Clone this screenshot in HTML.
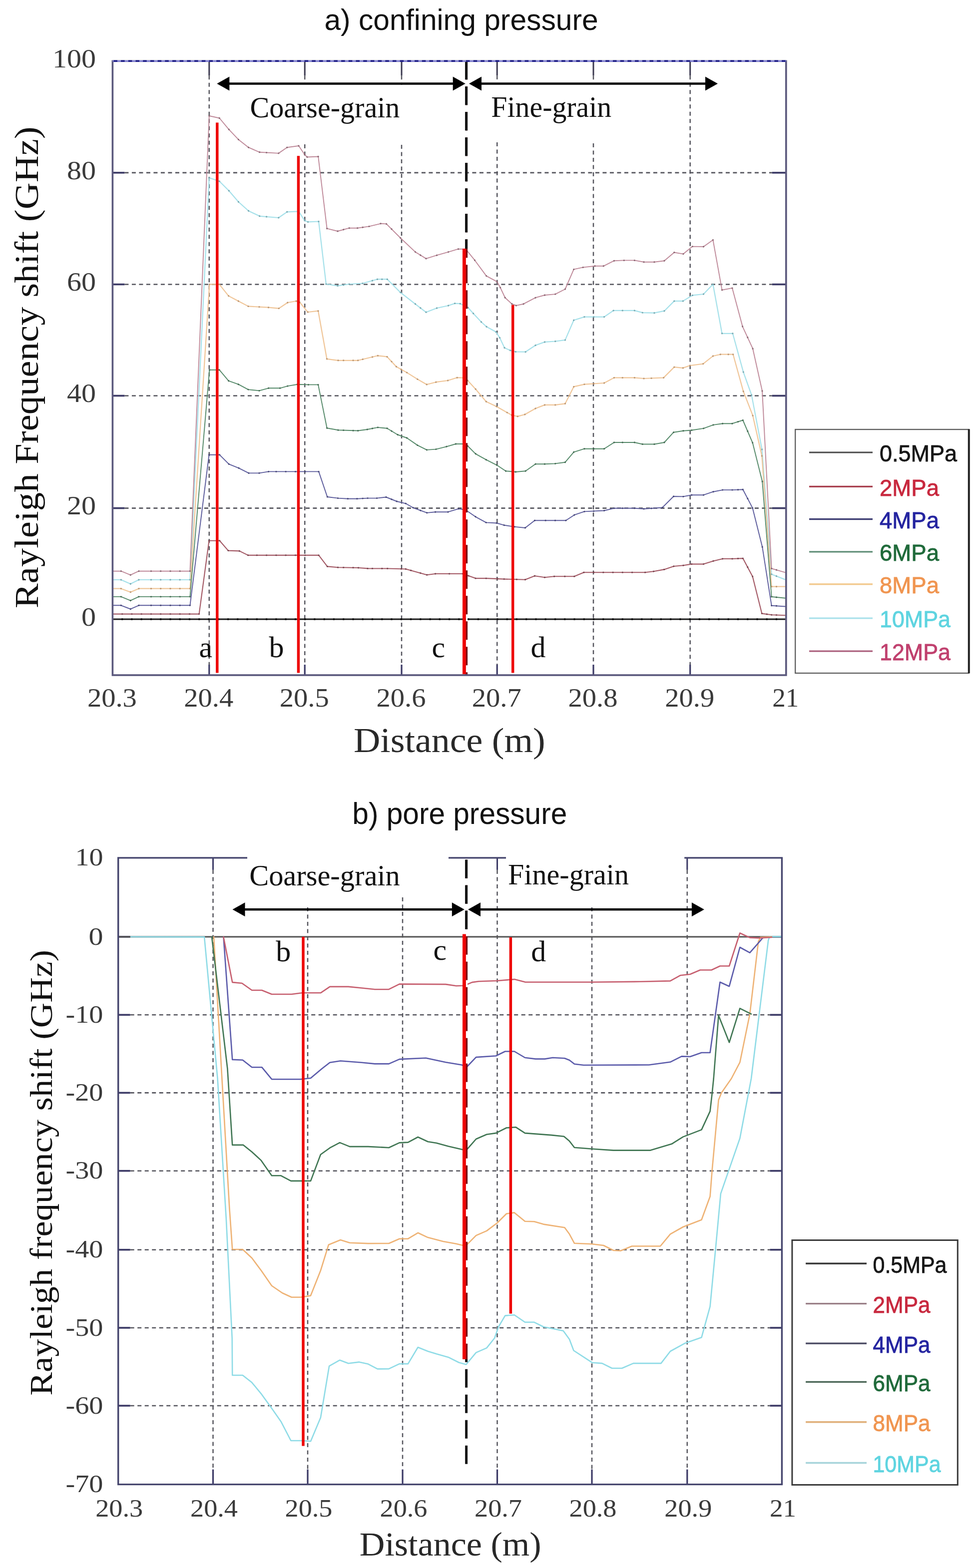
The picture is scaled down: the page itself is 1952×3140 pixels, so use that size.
<!DOCTYPE html>
<html lang="en"><head><meta charset="utf-8"><title>Rayleigh frequency shift: confining and pore pressure</title>
<style>html,body{margin:0;padding:0;background:#fff;width:1952px;height:3140px;overflow:hidden}svg{display:block}</style></head><body>
<svg width="1952" height="3140" viewBox="0 0 1952 3140">
<rect width="1952" height="3140" fill="#fff"/>
<text x="649.4" y="60.2" font-family="'Liberation Sans', Arial, sans-serif" font-size="60" fill="#111" text-anchor="start" textLength="548.2" lengthAdjust="spacingAndGlyphs">a) confining pressure</text>
<line x1="249.4" y1="345.9" x2="1545.8" y2="345.9" stroke="#56565e" stroke-width="2.6" stroke-dasharray="8 6.5"/>
<line x1="249.4" y1="569.5" x2="1545.8" y2="569.5" stroke="#56565e" stroke-width="2.6" stroke-dasharray="8 6.5"/>
<line x1="249.4" y1="792.5" x2="1545.8" y2="792.5" stroke="#56565e" stroke-width="2.6" stroke-dasharray="8 6.5"/>
<line x1="249.4" y1="1017.6" x2="1545.8" y2="1017.6" stroke="#56565e" stroke-width="2.6" stroke-dasharray="8 6.5"/>
<line x1="418.8" y1="151.3" x2="418.8" y2="1331.0" stroke="#56565e" stroke-width="2.5" stroke-dasharray="8 6.5"/>
<line x1="610.2" y1="151.3" x2="610.2" y2="166.0" stroke="#56565e" stroke-width="2.5" stroke-dasharray="8 6.5"/>
<line x1="610.2" y1="289.0" x2="610.2" y2="1331.0" stroke="#56565e" stroke-width="2.5" stroke-dasharray="8 6.5"/>
<line x1="804.0" y1="151.3" x2="804.0" y2="170.0" stroke="#56565e" stroke-width="2.5" stroke-dasharray="8 6.5"/>
<line x1="804.0" y1="290.0" x2="804.0" y2="1331.0" stroke="#56565e" stroke-width="2.5" stroke-dasharray="8 6.5"/>
<line x1="995.2" y1="151.3" x2="995.2" y2="159.0" stroke="#56565e" stroke-width="2.5" stroke-dasharray="8 6.5"/>
<line x1="995.2" y1="285.0" x2="995.2" y2="1331.0" stroke="#56565e" stroke-width="2.5" stroke-dasharray="8 6.5"/>
<line x1="1188.0" y1="151.3" x2="1188.0" y2="165.0" stroke="#56565e" stroke-width="2.5" stroke-dasharray="8 6.5"/>
<line x1="1188.0" y1="287.0" x2="1188.0" y2="1331.0" stroke="#56565e" stroke-width="2.5" stroke-dasharray="8 6.5"/>
<line x1="1381.7" y1="151.3" x2="1381.7" y2="1331.0" stroke="#56565e" stroke-width="2.5" stroke-dasharray="8 6.5"/>
<line x1="418.8" y1="1352.0" x2="418.8" y2="1331.0" stroke="#3c3a66" stroke-width="3.2"/>
<line x1="418.8" y1="122.3" x2="418.8" y2="151.3" stroke="#3c3a50" stroke-width="3.0"/>
<line x1="610.2" y1="1352.0" x2="610.2" y2="1331.0" stroke="#3c3a66" stroke-width="3.2"/>
<line x1="610.2" y1="122.3" x2="610.2" y2="151.3" stroke="#3c3a50" stroke-width="3.0"/>
<line x1="804.0" y1="1352.0" x2="804.0" y2="1331.0" stroke="#3c3a66" stroke-width="3.2"/>
<line x1="804.0" y1="122.3" x2="804.0" y2="151.3" stroke="#3c3a50" stroke-width="3.0"/>
<line x1="995.2" y1="1352.0" x2="995.2" y2="1331.0" stroke="#3c3a66" stroke-width="3.2"/>
<line x1="995.2" y1="122.3" x2="995.2" y2="151.3" stroke="#3c3a50" stroke-width="3.0"/>
<line x1="1188.0" y1="1352.0" x2="1188.0" y2="1331.0" stroke="#3c3a66" stroke-width="3.2"/>
<line x1="1188.0" y1="122.3" x2="1188.0" y2="151.3" stroke="#3c3a50" stroke-width="3.0"/>
<line x1="1381.7" y1="1352.0" x2="1381.7" y2="1331.0" stroke="#3c3a66" stroke-width="3.2"/>
<line x1="1381.7" y1="122.3" x2="1381.7" y2="151.3" stroke="#3c3a50" stroke-width="3.0"/>
<line x1="225.4" y1="345.9" x2="249.4" y2="345.9" stroke="#3c3a66" stroke-width="3.6"/>
<line x1="1573.8" y1="345.9" x2="1545.8" y2="345.9" stroke="#3c3a66" stroke-width="3.6"/>
<line x1="225.4" y1="569.5" x2="249.4" y2="569.5" stroke="#3c3a66" stroke-width="3.6"/>
<line x1="1573.8" y1="569.5" x2="1545.8" y2="569.5" stroke="#3c3a66" stroke-width="3.6"/>
<line x1="225.4" y1="792.5" x2="249.4" y2="792.5" stroke="#3c3a66" stroke-width="3.6"/>
<line x1="1573.8" y1="792.5" x2="1545.8" y2="792.5" stroke="#3c3a66" stroke-width="3.6"/>
<line x1="225.4" y1="1017.6" x2="249.4" y2="1017.6" stroke="#3c3a66" stroke-width="3.6"/>
<line x1="1573.8" y1="1017.6" x2="1545.8" y2="1017.6" stroke="#3c3a66" stroke-width="3.6"/>
<polyline points="225.4,1161.0 242.3,1161.0 261.3,1169.3 277.9,1161.0 380.4,1161.0 418.8,356.0 439.3,363.0 458.3,382.0 477.4,404.2 497.5,422.2 519.7,432.8 557.8,436.0 574.7,424.3 598.0,423.3 610.0,441.8 616.5,444.4 638.0,443.5 652.9,569.0 676.0,572.4 699.2,569.0 725.7,567.5 755.4,559.2 775.3,559.2 801.7,585.6 831.5,608.8 853.0,625.3 874.5,617.0 897.6,612.0 910.6,607.6 921.2,608.1 937.0,616.0 947.6,627.7 963.5,644.7 974.0,654.2 993.1,664.8 1000.5,676.4 1010.0,696.5 1021.7,701.8 1032.3,704.4 1052.2,704.7 1072.0,691.5 1090.5,684.9 1111.7,683.5 1131.5,680.9 1148.7,641.2 1169.9,634.6 1209.6,634.6 1228.1,621.9 1270.4,621.9 1286.3,626.1 1310.0,626.7 1330.0,622.7 1349.8,602.9 1367.4,602.9 1386.3,591.4 1408.5,589.0 1427.4,569.2 1445.5,667.8 1466.9,667.8 1488.2,745.0 1504.7,791.1 1525.5,900.0 1544.7,1150.0 1572.0,1160.6" fill="none" stroke="#a6e1ea" stroke-width="2.2" stroke-linejoin="round" stroke-linecap="round"/>
<polyline points="225.4,1178.7 242.3,1178.7 261.3,1185.8 277.9,1178.7 380.4,1178.7 419.4,569.4 439.1,569.4 457.6,592.6 477.3,603.0 497.0,613.4 519.0,614.6 537.5,615.7 558.3,617.6 575.7,606.0 593.0,603.0 600.0,605.3 616.2,625.0 637.0,622.7 654.4,718.8 677.0,721.8 716.7,721.8 756.4,712.3 775.0,714.4 793.4,734.2 814.6,746.1 835.8,759.4 854.3,770.0 872.8,765.2 896.6,762.0 915.1,756.2 928.4,756.7 936.3,762.0 952.2,779.2 973.3,804.3 994.0,814.0 1024.4,831.3 1036.3,833.9 1050.8,830.0 1072.0,818.0 1090.5,810.9 1111.7,810.9 1131.5,808.3 1148.7,774.4 1169.9,769.6 1209.6,767.0 1229.4,756.4 1270.4,756.4 1289.0,758.0 1328.6,756.4 1349.8,735.1 1367.4,736.9 1381.4,732.0 1407.7,728.6 1427.4,713.0 1442.2,709.7 1467.7,709.7 1488.2,783.7 1507.1,832.2 1525.3,913.0 1544.7,1174.7 1572.0,1174.7" fill="none" stroke="#f0c699" stroke-width="2.2" stroke-linejoin="round" stroke-linecap="round"/>
<polyline points="225.4,1143.7 242.3,1143.7 261.3,1151.4 277.9,1143.7 380.4,1143.7 418.8,232.0 439.3,236.5 458.3,259.3 477.4,279.4 497.5,295.2 519.7,304.8 557.8,306.9 574.7,295.2 598.0,292.0 609.9,309.5 614.9,314.5 637.1,313.5 654.6,457.7 676.0,463.0 699.2,456.7 715.7,456.7 738.9,453.4 762.0,447.8 773.6,448.4 801.7,476.5 831.5,504.6 853.0,517.9 874.5,511.2 897.6,504.6 917.5,498.7 932.3,498.7 950.5,521.2 973.7,552.6 995.2,564.2 1001.6,575.9 1011.1,596.0 1024.9,608.7 1033.3,611.9 1048.1,608.7 1072.0,596.2 1090.5,591.0 1111.7,589.1 1131.5,579.0 1148.7,539.4 1167.2,535.4 1191.0,532.8 1208.3,532.8 1229.4,522.2 1249.3,521.4 1270.4,521.4 1289.0,524.8 1310.0,524.8 1330.0,522.2 1349.8,505.5 1368.0,508.6 1386.3,493.6 1408.5,494.0 1427.4,480.4 1445.5,580.7 1466.0,576.9 1486.6,653.8 1507.1,698.2 1526.0,782.9 1544.7,1138.5 1572.0,1146.4" fill="none" stroke="#bf8a9a" stroke-width="1.9" stroke-linejoin="round" stroke-linecap="round"/>
<polyline points="225.4,1194.9 242.3,1194.9 261.3,1202.7 277.9,1194.9 380.4,1194.9 419.4,740.7 439.1,740.7 457.6,762.7 477.3,769.7 497.0,780.1 519.0,782.4 537.5,777.3 560.6,777.3 575.7,773.1 595.4,769.7 617.4,770.4 637.0,770.4 654.6,857.2 677.0,861.2 716.7,862.5 735.2,860.0 756.4,855.9 775.0,857.8 796.0,870.5 814.6,877.0 835.8,891.6 854.3,900.9 872.8,899.6 894.0,894.3 912.5,889.0 928.4,889.0 936.3,893.0 952.2,908.8 973.3,920.7 994.5,931.3 1012.5,943.2 1032.3,945.0 1052.2,943.2 1072.0,929.2 1090.5,929.2 1111.7,928.4 1131.5,925.7 1148.7,905.3 1169.9,898.7 1209.6,898.7 1229.4,886.0 1270.4,886.0 1286.3,889.5 1310.0,889.5 1330.0,886.0 1348.5,865.7 1368.0,862.7 1384.7,861.5 1408.6,857.9 1428.0,850.9 1446.6,848.2 1466.0,848.2 1487.3,841.5 1506.7,886.6 1526.2,964.3 1544.7,1195.0 1572.0,1197.7" fill="none" stroke="#568a6a" stroke-width="1.9" stroke-linejoin="round" stroke-linecap="round"/>
<polyline points="225.4,1212.3 242.3,1212.3 261.3,1219.7 277.9,1212.3 380.4,1212.3 418.5,910.8 439.7,910.8 458.2,929.4 478.0,937.3 497.9,947.4 519.0,947.4 537.6,944.4 638.1,944.4 655.3,995.0 676.5,997.6 696.3,998.7 714.8,998.7 736.0,997.6 754.5,997.6 773.0,995.5 794.3,1004.0 812.3,1008.3 827.1,1016.8 854.7,1026.9 871.6,1025.2 897.0,1025.2 918.1,1018.9 931.9,1021.0 952.0,1034.8 973.2,1046.4 994.3,1047.5 1009.2,1051.7 1030.3,1054.9 1051.5,1057.0 1070.5,1042.2 1132.9,1042.2 1149.8,1031.2 1169.9,1024.4 1209.6,1022.5 1229.4,1017.8 1270.4,1017.8 1289.0,1019.0 1326.0,1016.5 1348.5,994.0 1368.0,994.4 1384.7,991.2 1408.6,991.2 1428.0,984.7 1446.6,981.1 1466.0,981.1 1487.3,980.3 1506.7,1017.4 1526.2,1095.2 1544.7,1212.7 1572.0,1214.5" fill="none" stroke="#5c5c9c" stroke-width="1.9" stroke-linejoin="round" stroke-linecap="round"/>
<polyline points="225.4,1229.6 398.6,1229.6 418.5,1082.8 439.7,1082.8 456.9,1102.6 479.4,1103.4 496.6,1111.9 638.1,1111.9 655.3,1134.4 676.5,1136.2 717.5,1137.0 736.0,1138.4 775.7,1138.5 812.3,1139.5 854.7,1151.2 871.6,1149.0 926.6,1149.0 952.0,1158.1 973.2,1158.1 1009.2,1159.6 1051.5,1160.7 1070.5,1153.3 1090.6,1156.3 1109.6,1154.2 1149.8,1154.2 1168.9,1146.3 1291.6,1146.3 1308.6,1144.2 1329.7,1140.4 1348.8,1134.0 1368.0,1132.3 1384.7,1129.6 1408.6,1129.6 1428.0,1123.4 1446.6,1119.0 1466.0,1119.0 1487.3,1118.1 1506.7,1154.4 1525.3,1228.6 1544.7,1231.3 1572.0,1232.2" fill="none" stroke="#a45a66" stroke-width="2.1" stroke-linejoin="round" stroke-linecap="round"/>
<line x1="225.4" y1="1240.0" x2="1573.8" y2="1240.0" stroke="#1a1a1a" stroke-width="3.0"/>
<path d="M242.3 1161.0h0.01M261.3 1169.3h0.01M277.9 1161.0h0.01M380.4 1161.0h0.01M418.8 356.0h0.01M439.3 363.0h0.01M458.3 382.0h0.01M477.4 404.2h0.01M497.5 422.2h0.01M519.7 432.8h0.01M557.8 436.0h0.01M574.7 424.3h0.01M598.0 423.3h0.01M610.0 441.8h0.01M616.5 444.4h0.01M638.0 443.5h0.01M652.9 569.0h0.01M676.0 572.4h0.01M699.2 569.0h0.01M725.7 567.5h0.01M755.4 559.2h0.01M775.3 559.2h0.01M801.7 585.6h0.01M831.5 608.8h0.01M853.0 625.3h0.01M874.5 617.0h0.01M897.6 612.0h0.01M910.6 607.6h0.01M921.2 608.1h0.01M937.0 616.0h0.01M947.6 627.7h0.01M963.5 644.7h0.01M974.0 654.2h0.01M993.1 664.8h0.01M1000.5 676.4h0.01M1010.0 696.5h0.01M1021.7 701.8h0.01M1032.3 704.4h0.01M1052.2 704.7h0.01M1072.0 691.5h0.01M1090.5 684.9h0.01M1111.7 683.5h0.01M1131.5 680.9h0.01M1148.7 641.2h0.01M1169.9 634.6h0.01M1209.6 634.6h0.01M1228.1 621.9h0.01M1270.4 621.9h0.01M1286.3 626.1h0.01M1310.0 626.7h0.01M1330.0 622.7h0.01M1349.8 602.9h0.01M1367.4 602.9h0.01M1386.3 591.4h0.01M1408.5 589.0h0.01M1427.4 569.2h0.01M1445.5 667.8h0.01M1466.9 667.8h0.01M1488.2 745.0h0.01M1504.7 791.1h0.01M1525.5 900.0h0.01M1544.7 1150.0h0.01M302.5 1161.0h0.01M321.7 1161.0h0.01M341.0 1161.0h0.01M360.2 1161.0h0.01M533.6 434.0h0.01M687.7 570.7h0.01M745.5 562.0h0.01M764.8 559.2h0.01M841.8 616.7h0.01M1188.6 634.6h0.01M1246.3 621.9h0.01M1554.5 1153.8h0.01" stroke="#6a9aa2" stroke-width="3.4" stroke-linecap="round" fill="none" opacity="0.75"/>
<path d="M242.3 1178.7h0.01M261.3 1185.8h0.01M277.9 1178.7h0.01M380.4 1178.7h0.01M419.4 569.4h0.01M439.1 569.4h0.01M457.6 592.6h0.01M477.3 603.0h0.01M497.0 613.4h0.01M519.0 614.6h0.01M537.5 615.7h0.01M558.3 617.6h0.01M575.7 606.0h0.01M593.0 603.0h0.01M600.0 605.3h0.01M616.2 625.0h0.01M637.0 622.7h0.01M654.4 718.8h0.01M677.0 721.8h0.01M716.7 721.8h0.01M756.4 712.3h0.01M775.0 714.4h0.01M793.4 734.2h0.01M814.6 746.1h0.01M835.8 759.4h0.01M854.3 770.0h0.01M872.8 765.2h0.01M896.6 762.0h0.01M915.1 756.2h0.01M928.4 756.7h0.01M936.3 762.0h0.01M952.2 779.2h0.01M973.3 804.3h0.01M994.0 814.0h0.01M1024.4 831.3h0.01M1036.3 833.9h0.01M1050.8 830.0h0.01M1072.0 818.0h0.01M1090.5 810.9h0.01M1111.7 810.9h0.01M1131.5 808.3h0.01M1148.7 774.4h0.01M1169.9 769.6h0.01M1209.6 767.0h0.01M1229.4 756.4h0.01M1270.4 756.4h0.01M1289.0 758.0h0.01M1328.6 756.4h0.01M1349.8 735.1h0.01M1367.4 736.9h0.01M1381.4 732.0h0.01M1407.7 728.6h0.01M1427.4 713.0h0.01M1442.2 709.7h0.01M1467.7 709.7h0.01M1488.2 783.7h0.01M1507.1 832.2h0.01M1525.3 913.0h0.01M1544.7 1174.7h0.01M302.5 1178.7h0.01M321.7 1178.7h0.01M341.0 1178.7h0.01M360.2 1178.7h0.01M687.7 721.8h0.01M707.0 721.8h0.01M726.2 719.5h0.01M745.5 714.9h0.01M784.0 724.1h0.01M803.3 739.8h0.01M1015.2 826.1h0.01M1188.6 768.4h0.01M1246.3 756.4h0.01M1304.1 757.4h0.01M1458.2 709.7h0.01M1554.5 1174.7h0.01" stroke="#b08a66" stroke-width="3.4" stroke-linecap="round" fill="none" opacity="0.75"/>
<path d="M242.3 1143.7h0.01M261.3 1151.4h0.01M277.9 1143.7h0.01M380.4 1143.7h0.01M418.8 232.0h0.01M439.3 236.5h0.01M458.3 259.3h0.01M477.4 279.4h0.01M497.5 295.2h0.01M519.7 304.8h0.01M557.8 306.9h0.01M574.7 295.2h0.01M598.0 292.0h0.01M609.9 309.5h0.01M614.9 314.5h0.01M637.1 313.5h0.01M654.6 457.7h0.01M676.0 463.0h0.01M699.2 456.7h0.01M715.7 456.7h0.01M738.9 453.4h0.01M762.0 447.8h0.01M773.6 448.4h0.01M801.7 476.5h0.01M831.5 504.6h0.01M853.0 517.9h0.01M874.5 511.2h0.01M897.6 504.6h0.01M917.5 498.7h0.01M932.3 498.7h0.01M950.5 521.2h0.01M973.7 552.6h0.01M995.2 564.2h0.01M1001.6 575.9h0.01M1011.1 596.0h0.01M1024.9 608.7h0.01M1033.3 611.9h0.01M1048.1 608.7h0.01M1072.0 596.2h0.01M1090.5 591.0h0.01M1111.7 589.1h0.01M1131.5 579.0h0.01M1148.7 539.4h0.01M1167.2 535.4h0.01M1191.0 532.8h0.01M1208.3 532.8h0.01M1229.4 522.2h0.01M1249.3 521.4h0.01M1270.4 521.4h0.01M1289.0 524.8h0.01M1310.0 524.8h0.01M1330.0 522.2h0.01M1349.8 505.5h0.01M1368.0 508.6h0.01M1386.3 493.6h0.01M1408.5 494.0h0.01M1427.4 480.4h0.01M1445.5 580.7h0.01M1466.0 576.9h0.01M1486.6 653.8h0.01M1507.1 698.2h0.01M1526.0 782.9h0.01M1544.7 1138.5h0.01M302.5 1143.7h0.01M321.7 1143.7h0.01M341.0 1143.7h0.01M360.2 1143.7h0.01M533.6 305.6h0.01M687.7 459.8h0.01M726.2 455.2h0.01M784.0 458.8h0.01M841.8 511.0h0.01M1496.8 675.8h0.01M1554.5 1141.3h0.01" stroke="#7e5a66" stroke-width="3.4" stroke-linecap="round" fill="none" opacity="0.75"/>
<path d="M242.3 1194.9h0.01M261.3 1202.7h0.01M277.9 1194.9h0.01M380.4 1194.9h0.01M419.4 740.7h0.01M439.1 740.7h0.01M457.6 762.7h0.01M477.3 769.7h0.01M497.0 780.1h0.01M519.0 782.4h0.01M537.5 777.3h0.01M560.6 777.3h0.01M575.7 773.1h0.01M595.4 769.7h0.01M617.4 770.4h0.01M637.0 770.4h0.01M654.6 857.2h0.01M677.0 861.2h0.01M716.7 862.5h0.01M735.2 860.0h0.01M756.4 855.9h0.01M775.0 857.8h0.01M796.0 870.5h0.01M814.6 877.0h0.01M835.8 891.6h0.01M854.3 900.9h0.01M872.8 899.6h0.01M894.0 894.3h0.01M912.5 889.0h0.01M928.4 889.0h0.01M936.3 893.0h0.01M952.2 908.8h0.01M973.3 920.7h0.01M994.5 931.3h0.01M1012.5 943.2h0.01M1032.3 945.0h0.01M1052.2 943.2h0.01M1072.0 929.2h0.01M1090.5 929.2h0.01M1111.7 928.4h0.01M1131.5 925.7h0.01M1148.7 905.3h0.01M1169.9 898.7h0.01M1209.6 898.7h0.01M1229.4 886.0h0.01M1270.4 886.0h0.01M1286.3 889.5h0.01M1310.0 889.5h0.01M1330.0 886.0h0.01M1348.5 865.7h0.01M1368.0 862.7h0.01M1384.7 861.5h0.01M1408.6 857.9h0.01M1428.0 850.9h0.01M1446.6 848.2h0.01M1466.0 848.2h0.01M1487.3 841.5h0.01M1506.7 886.6h0.01M1526.2 964.3h0.01M1544.7 1195.0h0.01M302.5 1194.9h0.01M321.7 1194.9h0.01M341.0 1194.9h0.01M360.2 1194.9h0.01M687.7 861.6h0.01M707.0 862.2h0.01M745.5 858.0h0.01M784.0 863.3h0.01M1188.6 898.7h0.01M1246.3 886.0h0.01M1477.5 844.6h0.01M1496.8 863.5h0.01M1554.5 1196.0h0.01" stroke="#3a5e48" stroke-width="3.4" stroke-linecap="round" fill="none" opacity="0.75"/>
<path d="M242.3 1212.3h0.01M261.3 1219.7h0.01M277.9 1212.3h0.01M380.4 1212.3h0.01M418.5 910.8h0.01M439.7 910.8h0.01M458.2 929.4h0.01M478.0 937.3h0.01M497.9 947.4h0.01M519.0 947.4h0.01M537.6 944.4h0.01M638.1 944.4h0.01M655.3 995.0h0.01M676.5 997.6h0.01M696.3 998.7h0.01M714.8 998.7h0.01M736.0 997.6h0.01M754.5 997.6h0.01M773.0 995.5h0.01M794.3 1004.0h0.01M812.3 1008.3h0.01M827.1 1016.8h0.01M854.7 1026.9h0.01M871.6 1025.2h0.01M897.0 1025.2h0.01M918.1 1018.9h0.01M931.9 1021.0h0.01M952.0 1034.8h0.01M973.2 1046.4h0.01M994.3 1047.5h0.01M1009.2 1051.7h0.01M1030.3 1054.9h0.01M1051.5 1057.0h0.01M1070.5 1042.2h0.01M1132.9 1042.2h0.01M1149.8 1031.2h0.01M1169.9 1024.4h0.01M1209.6 1022.5h0.01M1229.4 1017.8h0.01M1270.4 1017.8h0.01M1289.0 1019.0h0.01M1326.0 1016.5h0.01M1348.5 994.0h0.01M1368.0 994.4h0.01M1384.7 991.2h0.01M1408.6 991.2h0.01M1428.0 984.7h0.01M1446.6 981.1h0.01M1466.0 981.1h0.01M1487.3 980.3h0.01M1506.7 1017.4h0.01M1526.2 1095.2h0.01M1544.7 1212.7h0.01M302.5 1212.3h0.01M321.7 1212.3h0.01M341.0 1212.3h0.01M360.2 1212.3h0.01M552.9 944.4h0.01M572.1 944.4h0.01M591.4 944.4h0.01M610.7 944.4h0.01M726.2 998.1h0.01M784.0 999.9h0.01M841.8 1022.2h0.01M1092.2 1042.2h0.01M1111.5 1042.2h0.01M1188.6 1023.5h0.01M1246.3 1017.8h0.01M1304.1 1018.0h0.01M1477.5 980.7h0.01M1496.8 998.4h0.01M1554.5 1213.3h0.01" stroke="#3c3c6c" stroke-width="3.4" stroke-linecap="round" fill="none" opacity="0.75"/>
<path d="M398.6 1229.6h0.01M418.5 1082.8h0.01M439.7 1082.8h0.01M456.9 1102.6h0.01M479.4 1103.4h0.01M496.6 1111.9h0.01M638.1 1111.9h0.01M655.3 1134.4h0.01M676.5 1136.2h0.01M717.5 1137.0h0.01M736.0 1138.4h0.01M775.7 1138.5h0.01M812.3 1139.5h0.01M854.7 1151.2h0.01M871.6 1149.0h0.01M926.6 1149.0h0.01M952.0 1158.1h0.01M973.2 1158.1h0.01M1009.2 1159.6h0.01M1051.5 1160.7h0.01M1070.5 1153.3h0.01M1090.6 1156.3h0.01M1109.6 1154.2h0.01M1149.8 1154.2h0.01M1168.9 1146.3h0.01M1291.6 1146.3h0.01M1308.6 1144.2h0.01M1329.7 1140.4h0.01M1348.8 1134.0h0.01M1368.0 1132.3h0.01M1384.7 1129.6h0.01M1408.6 1129.6h0.01M1428.0 1123.4h0.01M1446.6 1119.0h0.01M1466.0 1119.0h0.01M1487.3 1118.1h0.01M1506.7 1154.4h0.01M1525.3 1228.6h0.01M1544.7 1231.3h0.01M244.7 1229.6h0.01M263.9 1229.6h0.01M283.2 1229.6h0.01M302.5 1229.6h0.01M321.7 1229.6h0.01M341.0 1229.6h0.01M360.2 1229.6h0.01M379.5 1229.6h0.01M514.3 1111.9h0.01M533.6 1111.9h0.01M552.9 1111.9h0.01M572.1 1111.9h0.01M591.4 1111.9h0.01M610.7 1111.9h0.01M687.7 1136.4h0.01M707.0 1136.8h0.01M745.5 1138.4h0.01M764.8 1138.5h0.01M803.3 1139.3h0.01M822.6 1142.3h0.01M841.8 1147.6h0.01M899.6 1149.0h0.01M938.1 1153.1h0.01M995.9 1159.0h0.01M1034.4 1160.3h0.01M1130.8 1154.2h0.01M1188.6 1146.3h0.01M1207.8 1146.3h0.01M1227.1 1146.3h0.01M1246.3 1146.3h0.01M1265.6 1146.3h0.01M1477.5 1118.5h0.01M1496.8 1135.8h0.01M1535.3 1230.0h0.01M1554.5 1231.6h0.01" stroke="#6e3a44" stroke-width="3.4" stroke-linecap="round" fill="none" opacity="0.75"/>
<path d="M244.7 1240.0h0.01M263.9 1240.0h0.01M283.2 1240.0h0.01M302.5 1240.0h0.01M321.7 1240.0h0.01M341.0 1240.0h0.01M360.2 1240.0h0.01M379.5 1240.0h0.01M398.8 1240.0h0.01M418.0 1240.0h0.01M437.3 1240.0h0.01M456.6 1240.0h0.01M475.8 1240.0h0.01M495.1 1240.0h0.01M514.3 1240.0h0.01M533.6 1240.0h0.01M552.9 1240.0h0.01M572.1 1240.0h0.01M591.4 1240.0h0.01M610.7 1240.0h0.01M629.9 1240.0h0.01M649.2 1240.0h0.01M668.4 1240.0h0.01M687.7 1240.0h0.01M707.0 1240.0h0.01M726.2 1240.0h0.01M745.5 1240.0h0.01M764.8 1240.0h0.01M784.0 1240.0h0.01M803.3 1240.0h0.01M822.6 1240.0h0.01M841.8 1240.0h0.01M861.1 1240.0h0.01M880.3 1240.0h0.01M899.6 1240.0h0.01M918.9 1240.0h0.01M938.1 1240.0h0.01M957.4 1240.0h0.01M976.7 1240.0h0.01M995.9 1240.0h0.01M1015.2 1240.0h0.01M1034.4 1240.0h0.01M1053.7 1240.0h0.01M1073.0 1240.0h0.01M1092.2 1240.0h0.01M1111.5 1240.0h0.01M1130.8 1240.0h0.01M1150.0 1240.0h0.01M1169.3 1240.0h0.01M1188.6 1240.0h0.01M1207.8 1240.0h0.01M1227.1 1240.0h0.01M1246.3 1240.0h0.01M1265.6 1240.0h0.01M1284.9 1240.0h0.01M1304.1 1240.0h0.01M1323.4 1240.0h0.01M1342.7 1240.0h0.01M1361.9 1240.0h0.01M1381.2 1240.0h0.01M1400.4 1240.0h0.01M1419.7 1240.0h0.01M1439.0 1240.0h0.01M1458.2 1240.0h0.01M1477.5 1240.0h0.01M1496.8 1240.0h0.01M1516.0 1240.0h0.01M1535.3 1240.0h0.01M1554.5 1240.0h0.01" stroke="#111" stroke-width="4.2" stroke-linecap="round" fill="none"/>
<line x1="933.6" y1="122.3" x2="933.6" y2="1352.0" stroke="#151515" stroke-width="5.0" stroke-dasharray="37 14"/>
<line x1="934.3" y1="498.0" x2="934.3" y2="1352.0" stroke="#ffffff" stroke-width="3.4"/>
<line x1="934.3" y1="122.3" x2="934.3" y2="1352.0" stroke="#7a0610" stroke-width="3.4" stroke-dasharray="37 14"/>
<rect x="926.0" y="498" width="6.8" height="852" fill="#ee0000"/>
<line x1="933.6" y1="122.3" x2="933.6" y2="498.0" stroke="#151515" stroke-width="5.0" stroke-dasharray="37 14"/>
<rect x="432.1" y="245.5" width="5.4" height="1102.0" fill="#ee0000"/>
<rect x="594.7" y="312.2" width="5.4" height="1035.3" fill="#ee0000"/>
<rect x="1024.0" y="610.6" width="5.4" height="736.9" fill="#ee0000"/>
<line x1="457.3" y1="167.5" x2="908.7" y2="167.5" stroke="#000" stroke-width="4.4"/>
<polygon points="434.3,167.5 459.3,153.5 459.3,181.5" fill="#000"/>
<polygon points="931.7,167.5 906.7,153.5 906.7,181.5" fill="#000"/>
<line x1="962.0" y1="167.5" x2="1414.0" y2="167.5" stroke="#000" stroke-width="4.4"/>
<polygon points="939.0,167.5 964.0,153.5 964.0,181.5" fill="#000"/>
<polygon points="1437.0,167.5 1412.0,153.5 1412.0,181.5" fill="#000"/>
<text x="500.4" y="235.0" font-family="'Liberation Serif', 'Times New Roman', serif" font-size="60" fill="#111" text-anchor="start" textLength="300.0" lengthAdjust="spacingAndGlyphs">Coarse-grain</text>
<text x="983.3" y="234.0" font-family="'Liberation Serif', 'Times New Roman', serif" font-size="60" fill="#111" text-anchor="start" textLength="241.0" lengthAdjust="spacingAndGlyphs">Fine-grain</text>
<text x="398.5" y="1316.0" font-family="'Liberation Serif', 'Times New Roman', serif" font-size="60" fill="#111" text-anchor="start">a</text>
<text x="538.5" y="1316.0" font-family="'Liberation Serif', 'Times New Roman', serif" font-size="60" fill="#111" text-anchor="start">b</text>
<text x="864.5" y="1316.0" font-family="'Liberation Serif', 'Times New Roman', serif" font-size="60" fill="#111" text-anchor="start">c</text>
<text x="1062.5" y="1316.0" font-family="'Liberation Serif', 'Times New Roman', serif" font-size="60" fill="#111" text-anchor="start">d</text>
<rect x="225.4" y="122.3" width="1348.4" height="1229.7" fill="none" stroke="#5a587c" stroke-width="3.6"/>
<line x1="225.4" y1="122.3" x2="1573.8" y2="122.3" stroke="#8a8ae6" stroke-width="2.4"/>
<line x1="227.4" y1="122.3" x2="1573.8" y2="122.3" stroke="#20208a" stroke-width="3.4" stroke-dasharray="7.5 7.2"/>
<text x="192.0" y="135.1" font-family="'Liberation Serif', 'Times New Roman', serif" font-size="52" fill="#3a3a3a" text-anchor="end" textLength="87.0" lengthAdjust="spacingAndGlyphs">100</text>
<text x="192.0" y="358.7" font-family="'Liberation Serif', 'Times New Roman', serif" font-size="52" fill="#3a3a3a" text-anchor="end" textLength="58.0" lengthAdjust="spacingAndGlyphs">80</text>
<text x="192.0" y="582.3" font-family="'Liberation Serif', 'Times New Roman', serif" font-size="52" fill="#3a3a3a" text-anchor="end" textLength="58.0" lengthAdjust="spacingAndGlyphs">60</text>
<text x="192.0" y="805.3" font-family="'Liberation Serif', 'Times New Roman', serif" font-size="52" fill="#3a3a3a" text-anchor="end" textLength="58.0" lengthAdjust="spacingAndGlyphs">40</text>
<text x="192.0" y="1030.4" font-family="'Liberation Serif', 'Times New Roman', serif" font-size="52" fill="#3a3a3a" text-anchor="end" textLength="58.0" lengthAdjust="spacingAndGlyphs">20</text>
<text x="192.0" y="1252.8" font-family="'Liberation Serif', 'Times New Roman', serif" font-size="52" fill="#3a3a3a" text-anchor="end" textLength="29.0" lengthAdjust="spacingAndGlyphs">0</text>
<text x="224.4" y="1415.2" font-family="'Liberation Serif', 'Times New Roman', serif" font-size="52" fill="#3a3a3a" text-anchor="middle" textLength="99.0" lengthAdjust="spacingAndGlyphs">20.3</text>
<text x="417.8" y="1415.2" font-family="'Liberation Serif', 'Times New Roman', serif" font-size="52" fill="#3a3a3a" text-anchor="middle" textLength="99.0" lengthAdjust="spacingAndGlyphs">20.4</text>
<text x="609.2" y="1415.2" font-family="'Liberation Serif', 'Times New Roman', serif" font-size="52" fill="#3a3a3a" text-anchor="middle" textLength="99.0" lengthAdjust="spacingAndGlyphs">20.5</text>
<text x="803.0" y="1415.2" font-family="'Liberation Serif', 'Times New Roman', serif" font-size="52" fill="#3a3a3a" text-anchor="middle" textLength="99.0" lengthAdjust="spacingAndGlyphs">20.6</text>
<text x="994.2" y="1415.2" font-family="'Liberation Serif', 'Times New Roman', serif" font-size="52" fill="#3a3a3a" text-anchor="middle" textLength="99.0" lengthAdjust="spacingAndGlyphs">20.7</text>
<text x="1187.0" y="1415.2" font-family="'Liberation Serif', 'Times New Roman', serif" font-size="52" fill="#3a3a3a" text-anchor="middle" textLength="99.0" lengthAdjust="spacingAndGlyphs">20.8</text>
<text x="1380.7" y="1415.2" font-family="'Liberation Serif', 'Times New Roman', serif" font-size="52" fill="#3a3a3a" text-anchor="middle" textLength="99.0" lengthAdjust="spacingAndGlyphs">20.9</text>
<text x="1572.8" y="1415.2" font-family="'Liberation Serif', 'Times New Roman', serif" font-size="52" fill="#3a3a3a" text-anchor="middle" textLength="53.0" lengthAdjust="spacingAndGlyphs">21</text>
<text x="899.7" y="1505.5" font-family="'Liberation Serif', 'Times New Roman', serif" font-size="70" fill="#282828" text-anchor="middle" textLength="383.6" lengthAdjust="spacingAndGlyphs">Distance (m)</text>
<text transform="translate(76.3,1218.3) rotate(-90)" font-family="'Liberation Serif', 'Times New Roman', serif" font-size="68" fill="#111" textLength="965" lengthAdjust="spacingAndGlyphs">Rayleigh Frequency shift (GHz)</text>
<rect x="1592.2" y="860.0" width="347.6" height="488.0" fill="#fff" stroke="#5e5e5e" stroke-width="2.3"/>
<line x1="1939.8" y1="859.4" x2="1939.8" y2="1348.0" stroke="#222" stroke-width="4"/>
<line x1="1620.0" y1="906.0" x2="1747.0" y2="906.0" stroke="#4a4a4a" stroke-width="3.2"/>
<text x="1761.0" y="924.3" font-family="'Liberation Sans', Arial, sans-serif" font-size="47" fill="#161616" text-anchor="start" textLength="155.0" lengthAdjust="spacingAndGlyphs" stroke="#161616" stroke-width="0.8">0.5MPa</text>
<line x1="1620.0" y1="974.3" x2="1747.0" y2="974.3" stroke="#a8404e" stroke-width="3.2"/>
<text x="1761.0" y="992.6" font-family="'Liberation Sans', Arial, sans-serif" font-size="47" fill="#c8283e" text-anchor="start" textLength="119.0" lengthAdjust="spacingAndGlyphs" stroke="#c8283e" stroke-width="0.8">2MPa</text>
<line x1="1620.0" y1="1039.6" x2="1747.0" y2="1039.6" stroke="#3c3c72" stroke-width="3.2"/>
<text x="1761.0" y="1057.9" font-family="'Liberation Sans', Arial, sans-serif" font-size="47" fill="#2424a0" text-anchor="start" textLength="119.0" lengthAdjust="spacingAndGlyphs" stroke="#2424a0" stroke-width="0.8">4MPa</text>
<line x1="1620.0" y1="1105.0" x2="1747.0" y2="1105.0" stroke="#5a8a72" stroke-width="3.2"/>
<text x="1761.0" y="1123.3" font-family="'Liberation Sans', Arial, sans-serif" font-size="47" fill="#1f6a3a" text-anchor="start" textLength="119.0" lengthAdjust="spacingAndGlyphs" stroke="#1f6a3a" stroke-width="0.8">6MPa</text>
<line x1="1620.0" y1="1169.8" x2="1747.0" y2="1169.8" stroke="#f2c88c" stroke-width="3.2"/>
<text x="1761.0" y="1188.1" font-family="'Liberation Sans', Arial, sans-serif" font-size="47" fill="#f09550" text-anchor="start" textLength="119.0" lengthAdjust="spacingAndGlyphs" stroke="#f09550" stroke-width="0.8">8MPa</text>
<line x1="1620.0" y1="1238.0" x2="1747.0" y2="1238.0" stroke="#a6e0ea" stroke-width="3.2"/>
<text x="1761.0" y="1256.3" font-family="'Liberation Sans', Arial, sans-serif" font-size="47" fill="#5ed4e0" text-anchor="start" textLength="142.0" lengthAdjust="spacingAndGlyphs" stroke="#5ed4e0" stroke-width="0.8">10MPa</text>
<line x1="1620.0" y1="1304.0" x2="1747.0" y2="1304.0" stroke="#a85a78" stroke-width="3.2"/>
<text x="1761.0" y="1322.3" font-family="'Liberation Sans', Arial, sans-serif" font-size="47" fill="#c0406e" text-anchor="start" textLength="142.0" lengthAdjust="spacingAndGlyphs" stroke="#c0406e" stroke-width="0.8">12MPa</text>
<text x="705.3" y="1650.3" font-family="'Liberation Sans', Arial, sans-serif" font-size="62" fill="#111" text-anchor="start" textLength="430.0" lengthAdjust="spacingAndGlyphs">b) pore pressure</text>
<line x1="260.7" y1="2032.3" x2="1541.4" y2="2032.3" stroke="#56565e" stroke-width="2.6" stroke-dasharray="8 6.5"/>
<line x1="260.7" y1="2188.4" x2="1541.4" y2="2188.4" stroke="#56565e" stroke-width="2.6" stroke-dasharray="8 6.5"/>
<line x1="260.7" y1="2344.7" x2="1541.4" y2="2344.7" stroke="#56565e" stroke-width="2.6" stroke-dasharray="8 6.5"/>
<line x1="260.7" y1="2502.7" x2="1541.4" y2="2502.7" stroke="#56565e" stroke-width="2.6" stroke-dasharray="8 6.5"/>
<line x1="260.7" y1="2659.0" x2="1541.4" y2="2659.0" stroke="#56565e" stroke-width="2.6" stroke-dasharray="8 6.5"/>
<line x1="260.7" y1="2815.0" x2="1541.4" y2="2815.0" stroke="#56565e" stroke-width="2.6" stroke-dasharray="8 6.5"/>
<line x1="426.5" y1="1741.9" x2="426.5" y2="2942.6" stroke="#56565e" stroke-width="2.5" stroke-dasharray="8 6.5"/>
<line x1="616.0" y1="1817.0" x2="616.0" y2="2942.6" stroke="#56565e" stroke-width="2.5" stroke-dasharray="8 6.5"/>
<line x1="806.0" y1="1797.0" x2="806.0" y2="2942.6" stroke="#56565e" stroke-width="2.5" stroke-dasharray="8 6.5"/>
<line x1="995.5" y1="1741.9" x2="995.5" y2="2942.6" stroke="#56565e" stroke-width="2.5" stroke-dasharray="8 6.5"/>
<line x1="1185.0" y1="1817.0" x2="1185.0" y2="2942.6" stroke="#56565e" stroke-width="2.5" stroke-dasharray="8 6.5"/>
<line x1="1375.8" y1="1741.9" x2="1375.8" y2="2942.6" stroke="#56565e" stroke-width="2.5" stroke-dasharray="8 6.5"/>
<line x1="426.5" y1="2972.6" x2="426.5" y2="2942.6" stroke="#3c3a66" stroke-width="3.2"/>
<line x1="426.5" y1="1717.9" x2="426.5" y2="1741.9" stroke="#3c3a66" stroke-width="3.0"/>
<line x1="616.0" y1="2972.6" x2="616.0" y2="2942.6" stroke="#3c3a66" stroke-width="3.2"/>
<line x1="806.0" y1="2972.6" x2="806.0" y2="2942.6" stroke="#3c3a66" stroke-width="3.2"/>
<line x1="995.5" y1="2972.6" x2="995.5" y2="2942.6" stroke="#3c3a66" stroke-width="3.2"/>
<line x1="995.5" y1="1717.9" x2="995.5" y2="1741.9" stroke="#3c3a66" stroke-width="3.0"/>
<line x1="1185.0" y1="2972.6" x2="1185.0" y2="2942.6" stroke="#3c3a66" stroke-width="3.2"/>
<line x1="1375.8" y1="2972.6" x2="1375.8" y2="2942.6" stroke="#3c3a66" stroke-width="3.2"/>
<line x1="1375.8" y1="1717.9" x2="1375.8" y2="1741.9" stroke="#3c3a66" stroke-width="3.0"/>
<line x1="236.7" y1="2032.3" x2="260.7" y2="2032.3" stroke="#3c3a66" stroke-width="3.6"/>
<line x1="1565.4" y1="2032.3" x2="1541.4" y2="2032.3" stroke="#3c3a66" stroke-width="3.6"/>
<line x1="236.7" y1="2188.4" x2="260.7" y2="2188.4" stroke="#3c3a66" stroke-width="3.6"/>
<line x1="1565.4" y1="2188.4" x2="1541.4" y2="2188.4" stroke="#3c3a66" stroke-width="3.6"/>
<line x1="236.7" y1="2344.7" x2="260.7" y2="2344.7" stroke="#3c3a66" stroke-width="3.6"/>
<line x1="1565.4" y1="2344.7" x2="1541.4" y2="2344.7" stroke="#3c3a66" stroke-width="3.6"/>
<line x1="236.7" y1="2502.7" x2="260.7" y2="2502.7" stroke="#3c3a66" stroke-width="3.6"/>
<line x1="1565.4" y1="2502.7" x2="1541.4" y2="2502.7" stroke="#3c3a66" stroke-width="3.6"/>
<line x1="236.7" y1="2659.0" x2="260.7" y2="2659.0" stroke="#3c3a66" stroke-width="3.6"/>
<line x1="1565.4" y1="2659.0" x2="1541.4" y2="2659.0" stroke="#3c3a66" stroke-width="3.6"/>
<line x1="236.7" y1="2815.0" x2="260.7" y2="2815.0" stroke="#3c3a66" stroke-width="3.6"/>
<line x1="1565.4" y1="2815.0" x2="1541.4" y2="2815.0" stroke="#3c3a66" stroke-width="3.6"/>
<line x1="236.7" y1="1876.0" x2="260.7" y2="1876.0" stroke="#3c3a66" stroke-width="3.6"/>
<line x1="1565.4" y1="1876.0" x2="1541.4" y2="1876.0" stroke="#3c3a66" stroke-width="3.6"/>
<line x1="236.7" y1="1876.0" x2="1565.4" y2="1876.0" stroke="#555555" stroke-width="3.2"/>
<polyline points="262.0,1876.0 409.1,1876.4 435.6,2160.0 452.8,2440.0 464.7,2680.0 465.2,2754.0 485.8,2754.0 504.3,2768.6 522.9,2791.1 544.0,2820.2 562.5,2846.7 582.4,2885.0 604.9,2885.0 622.0,2886.3 641.9,2838.7 659.1,2735.6 680.3,2723.7 697.5,2730.3 718.6,2727.6 737.1,2731.6 755.7,2741.4 778.5,2741.2 799.7,2731.1 816.9,2731.1 836.7,2698.0 856.6,2706.0 873.8,2711.3 897.6,2717.9 918.7,2728.5 933.3,2732.4 953.1,2708.6 974.3,2699.4 990.2,2679.5 998.1,2657.0 1011.3,2634.6 1029.8,2633.2 1051.0,2647.8 1069.5,2647.8 1088.0,2657.0 1127.7,2665.0 1140.0,2682.0 1148.5,2704.5 1185.5,2728.7 1205.4,2730.1 1225.3,2740.0 1245.2,2740.0 1268.0,2730.1 1323.4,2730.1 1342.0,2706.0 1370.4,2690.3 1404.5,2678.3 1421.6,2616.3 1433.0,2496.9 1442.9,2390.4 1481.3,2279.5 1504.0,2160.0 1538.2,1882.8 1541.0,1875.6 1565.0,1875.6" fill="none" stroke="#8edbe6" stroke-width="2.6" stroke-linejoin="round" stroke-linecap="round"/>
<polyline points="428.0,1876.0 459.4,2420.0 465.2,2502.0 485.8,2502.0 504.3,2519.2 522.9,2544.3 544.0,2574.8 565.2,2589.3 583.7,2597.8 602.2,2597.8 622.0,2594.6 641.9,2544.3 657.8,2492.8 681.6,2483.0 700.1,2488.8 737.1,2490.1 778.5,2490.0 799.7,2480.7 816.9,2480.7 836.7,2468.8 856.6,2478.1 887.0,2486.0 913.4,2490.8 932.0,2495.3 953.1,2474.1 974.3,2464.9 995.4,2449.0 1014.0,2430.5 1029.8,2428.4 1051.0,2445.8 1069.5,2446.3 1088.0,2451.6 1130.4,2458.3 1140.0,2471.3 1150.0,2489.8 1185.5,2491.2 1208.3,2494.0 1228.2,2504.0 1242.4,2504.8 1265.1,2495.5 1322.0,2495.5 1342.0,2471.3 1367.5,2457.0 1404.5,2442.8 1421.6,2396.0 1425.8,2342.0 1438.6,2202.7 1444.3,2188.4 1464.2,2160.0 1481.3,2127.4 1501.2,2030.6 1518.3,1885.6 1522.5,1877.0 1545.0,1876.0" fill="none" stroke="#eeb274" stroke-width="2.6" stroke-linejoin="round" stroke-linecap="round"/>
<polyline points="424.0,1876.0 455.4,2140.0 465.2,2292.9 487.1,2292.9 504.3,2306.7 522.9,2323.9 544.0,2354.3 562.5,2354.3 582.4,2364.9 622.0,2364.9 641.9,2312.0 660.4,2298.7 680.3,2288.1 700.1,2296.1 737.1,2296.1 778.5,2298.2 799.7,2288.4 816.9,2287.6 836.7,2277.0 856.6,2286.3 873.8,2289.0 897.6,2295.6 926.7,2302.2 934.6,2302.2 953.1,2281.0 974.3,2271.7 992.8,2269.1 1014.0,2258.5 1032.5,2257.2 1051.0,2269.1 1103.9,2273.1 1129.0,2275.7 1140.0,2285.1 1150.0,2298.0 1185.5,2300.8 1228.2,2303.6 1302.1,2303.6 1344.8,2290.8 1367.5,2276.6 1404.5,2262.4 1421.6,2225.4 1425.8,2188.4 1428.7,2160.0 1438.6,2033.5 1460.0,2087.5 1481.3,2019.3 1504.0,2030.6" fill="none" stroke="#3f7552" stroke-width="2.6" stroke-linejoin="round" stroke-linecap="round"/>
<polyline points="447.5,1876.4 465.2,2121.9 485.8,2122.7 504.3,2137.2 524.2,2137.2 544.0,2161.2 602.2,2161.2 622.0,2159.0 644.6,2140.0 660.4,2127.7 681.6,2124.5 723.9,2127.7 750.4,2130.4 778.5,2130.4 799.7,2121.1 852.6,2118.7 892.3,2127.2 924.0,2132.5 934.6,2136.5 953.1,2117.1 992.8,2114.5 1011.3,2105.5 1029.8,2105.5 1051.0,2118.0 1072.2,2120.6 1090.7,2120.6 1106.6,2118.0 1130.4,2119.3 1140.0,2123.0 1150.0,2130.8 1168.4,2133.0 1299.3,2132.5 1341.9,2126.8 1364.7,2115.4 1381.7,2116.0 1404.5,2108.0 1421.6,2108.0 1441.5,1966.7 1460.0,1975.2 1481.3,1897.0 1501.2,1907.8 1518.3,1888.4 1526.8,1878.5" fill="none" stroke="#5a5aaa" stroke-width="2.6" stroke-linejoin="round" stroke-linecap="round"/>
<polyline points="447.5,1876.4 465.2,1967.1 484.5,1969.0 504.3,1983.0 524.2,1983.0 544.0,1991.0 583.7,1991.0 604.9,1988.3 641.9,1988.3 660.4,1975.9 697.5,1975.9 723.9,1978.5 750.4,1981.2 778.5,1981.2 799.7,1970.6 892.3,1971.1 913.4,1974.3 929.3,1973.8 945.2,1967.1 958.4,1965.3 995.4,1964.0 1029.8,1961.1 1051.0,1966.6 1185.5,1966.7 1282.2,1965.8 1341.9,1964.4 1361.8,1953.3 1381.7,1951.0 1401.7,1942.5 1424.4,1942.5 1441.5,1934.5 1460.0,1934.5 1481.3,1868.5 1501.2,1877.6 1518.3,1878.5 1545.0,1877.0" fill="none" stroke="#c65e6e" stroke-width="2.6" stroke-linejoin="round" stroke-linecap="round"/>
<line x1="933.6" y1="1721.8" x2="933.6" y2="2939.4" stroke="#151515" stroke-width="5.0" stroke-dasharray="37 14"/>
<line x1="934.3" y1="1870.6" x2="934.3" y2="2721.9" stroke="#ffffff" stroke-width="3.4"/>
<line x1="934.3" y1="1721.8" x2="934.3" y2="2721.9" stroke="#7a0610" stroke-width="3.4" stroke-dasharray="37 14"/>
<rect x="926.0" y="1870.6" width="6.8" height="851.3" fill="#ee0000"/>
<line x1="933.6" y1="1721.8" x2="933.6" y2="1870.6" stroke="#151515" stroke-width="5.0" stroke-dasharray="37 14"/>
<rect x="604.3" y="1876.0" width="5.4" height="1019.6" fill="#ee0000"/>
<rect x="1019.7" y="1877.0" width="5.4" height="753.6" fill="#ee0000"/>
<line x1="488.5" y1="1821.3" x2="906.8" y2="1821.3" stroke="#000" stroke-width="4.4"/>
<polygon points="465.5,1821.3 490.5,1807.3 490.5,1835.3" fill="#000"/>
<polygon points="929.8,1821.3 904.8,1807.3 904.8,1835.3" fill="#000"/>
<line x1="960.0" y1="1821.3" x2="1386.9" y2="1821.3" stroke="#000" stroke-width="4.4"/>
<polygon points="937.0,1821.3 962.0,1807.3 962.0,1835.3" fill="#000"/>
<polygon points="1409.9,1821.3 1384.9,1807.3 1384.9,1835.3" fill="#000"/>
<text x="499.2" y="1773.4" font-family="'Liberation Serif', 'Times New Roman', serif" font-size="60" fill="#111" text-anchor="start" textLength="301.6" lengthAdjust="spacingAndGlyphs">Coarse-grain</text>
<text x="1017.0" y="1771.4" font-family="'Liberation Serif', 'Times New Roman', serif" font-size="60" fill="#111" text-anchor="start" textLength="242.0" lengthAdjust="spacingAndGlyphs">Fine-grain</text>
<text x="552.3" y="1924.8" font-family="'Liberation Serif', 'Times New Roman', serif" font-size="60" fill="#111" text-anchor="start">b</text>
<text x="867.5" y="1922.2" font-family="'Liberation Serif', 'Times New Roman', serif" font-size="60" fill="#111" text-anchor="start">c</text>
<text x="1063.2" y="1924.8" font-family="'Liberation Serif', 'Times New Roman', serif" font-size="60" fill="#111" text-anchor="start">d</text>
<line x1="236.7" y1="1717.9" x2="236.7" y2="2972.6" stroke="#46466e" stroke-width="3.4"/>
<line x1="1565.4" y1="1717.9" x2="1565.4" y2="2972.6" stroke="#46466e" stroke-width="3.4"/>
<line x1="235.0" y1="2972.6" x2="1567.1" y2="2972.6" stroke="#46466e" stroke-width="3.4"/>
<line x1="235.0" y1="1717.9" x2="495.0" y2="1717.9" stroke="#46466e" stroke-width="3.4"/>
<line x1="898.0" y1="1717.9" x2="1013.0" y2="1717.9" stroke="#46466e" stroke-width="3.4"/>
<line x1="1370.2" y1="1717.9" x2="1567.1" y2="1717.9" stroke="#46466e" stroke-width="3.4"/>
<text x="206.5" y="1733.4" font-family="'Liberation Serif', 'Times New Roman', serif" font-size="50" fill="#3a3a3a" text-anchor="end" textLength="56.0" lengthAdjust="spacingAndGlyphs">10</text>
<text x="206.5" y="1891.5" font-family="'Liberation Serif', 'Times New Roman', serif" font-size="50" fill="#3a3a3a" text-anchor="end" textLength="29.0" lengthAdjust="spacingAndGlyphs">0</text>
<text x="206.5" y="2047.8" font-family="'Liberation Serif', 'Times New Roman', serif" font-size="50" fill="#3a3a3a" text-anchor="end" textLength="75.0" lengthAdjust="spacingAndGlyphs">-10</text>
<text x="206.5" y="2203.9" font-family="'Liberation Serif', 'Times New Roman', serif" font-size="50" fill="#3a3a3a" text-anchor="end" textLength="75.0" lengthAdjust="spacingAndGlyphs">-20</text>
<text x="206.5" y="2360.2" font-family="'Liberation Serif', 'Times New Roman', serif" font-size="50" fill="#3a3a3a" text-anchor="end" textLength="75.0" lengthAdjust="spacingAndGlyphs">-30</text>
<text x="206.5" y="2518.2" font-family="'Liberation Serif', 'Times New Roman', serif" font-size="50" fill="#3a3a3a" text-anchor="end" textLength="75.0" lengthAdjust="spacingAndGlyphs">-40</text>
<text x="206.5" y="2674.5" font-family="'Liberation Serif', 'Times New Roman', serif" font-size="50" fill="#3a3a3a" text-anchor="end" textLength="75.0" lengthAdjust="spacingAndGlyphs">-50</text>
<text x="206.5" y="2830.5" font-family="'Liberation Serif', 'Times New Roman', serif" font-size="50" fill="#3a3a3a" text-anchor="end" textLength="75.0" lengthAdjust="spacingAndGlyphs">-60</text>
<text x="206.5" y="2988.1" font-family="'Liberation Serif', 'Times New Roman', serif" font-size="50" fill="#3a3a3a" text-anchor="end" textLength="75.0" lengthAdjust="spacingAndGlyphs">-70</text>
<text x="238.7" y="3037.2" font-family="'Liberation Serif', 'Times New Roman', serif" font-size="51" fill="#3a3a3a" text-anchor="middle" textLength="95.0" lengthAdjust="spacingAndGlyphs">20.3</text>
<text x="428.5" y="3037.2" font-family="'Liberation Serif', 'Times New Roman', serif" font-size="51" fill="#3a3a3a" text-anchor="middle" textLength="95.0" lengthAdjust="spacingAndGlyphs">20.4</text>
<text x="618.0" y="3037.2" font-family="'Liberation Serif', 'Times New Roman', serif" font-size="51" fill="#3a3a3a" text-anchor="middle" textLength="95.0" lengthAdjust="spacingAndGlyphs">20.5</text>
<text x="808.0" y="3037.2" font-family="'Liberation Serif', 'Times New Roman', serif" font-size="51" fill="#3a3a3a" text-anchor="middle" textLength="95.0" lengthAdjust="spacingAndGlyphs">20.6</text>
<text x="997.5" y="3037.2" font-family="'Liberation Serif', 'Times New Roman', serif" font-size="51" fill="#3a3a3a" text-anchor="middle" textLength="95.0" lengthAdjust="spacingAndGlyphs">20.7</text>
<text x="1187.0" y="3037.2" font-family="'Liberation Serif', 'Times New Roman', serif" font-size="51" fill="#3a3a3a" text-anchor="middle" textLength="95.0" lengthAdjust="spacingAndGlyphs">20.8</text>
<text x="1377.8" y="3037.2" font-family="'Liberation Serif', 'Times New Roman', serif" font-size="51" fill="#3a3a3a" text-anchor="middle" textLength="95.0" lengthAdjust="spacingAndGlyphs">20.9</text>
<text x="1567.4" y="3037.2" font-family="'Liberation Serif', 'Times New Roman', serif" font-size="51" fill="#3a3a3a" text-anchor="middle" textLength="53.0" lengthAdjust="spacingAndGlyphs">21</text>
<text x="901.7" y="3115.4" font-family="'Liberation Serif', 'Times New Roman', serif" font-size="68" fill="#282828" text-anchor="middle" textLength="363.8" lengthAdjust="spacingAndGlyphs">Distance (m)</text>
<text transform="translate(104,2794.8) rotate(-90)" font-family="'Liberation Serif', 'Times New Roman', serif" font-size="64" fill="#111" textLength="892.6" lengthAdjust="spacingAndGlyphs">Rayleigh frequency shift (GHz)</text>
<rect x="1585.9" y="2483.5" width="331.4" height="490" fill="#fff" stroke="#3a3a3a" stroke-width="3"/>
<line x1="1613.1" y1="2530.2" x2="1735.0" y2="2530.2" stroke="#3a3a3a" stroke-width="3.4"/>
<text x="1747.5" y="2548.5" font-family="'Liberation Sans', Arial, sans-serif" font-size="46" fill="#161616" text-anchor="start" textLength="148.0" lengthAdjust="spacingAndGlyphs" stroke="#161616" stroke-width="0.8">0.5MPa</text>
<line x1="1613.1" y1="2610.6" x2="1735.0" y2="2610.6" stroke="#9a8088" stroke-width="3.4"/>
<text x="1747.5" y="2628.9" font-family="'Liberation Sans', Arial, sans-serif" font-size="46" fill="#c8283e" text-anchor="start" textLength="115.0" lengthAdjust="spacingAndGlyphs" stroke="#c8283e" stroke-width="0.8">2MPa</text>
<line x1="1613.1" y1="2690.2" x2="1735.0" y2="2690.2" stroke="#505068" stroke-width="3.4"/>
<text x="1747.5" y="2708.5" font-family="'Liberation Sans', Arial, sans-serif" font-size="46" fill="#2424a0" text-anchor="start" textLength="115.0" lengthAdjust="spacingAndGlyphs" stroke="#2424a0" stroke-width="0.8">4MPa</text>
<line x1="1613.1" y1="2767.4" x2="1735.0" y2="2767.4" stroke="#4a6656" stroke-width="3.4"/>
<text x="1747.5" y="2785.7" font-family="'Liberation Sans', Arial, sans-serif" font-size="46" fill="#1f6a3a" text-anchor="start" textLength="115.0" lengthAdjust="spacingAndGlyphs" stroke="#1f6a3a" stroke-width="0.8">6MPa</text>
<line x1="1613.1" y1="2847.8" x2="1735.0" y2="2847.8" stroke="#e0b07a" stroke-width="3.4"/>
<text x="1747.5" y="2866.1" font-family="'Liberation Sans', Arial, sans-serif" font-size="46" fill="#f09550" text-anchor="start" textLength="115.0" lengthAdjust="spacingAndGlyphs" stroke="#f09550" stroke-width="0.8">8MPa</text>
<line x1="1613.1" y1="2929.5" x2="1735.0" y2="2929.5" stroke="#a6d4da" stroke-width="3.4"/>
<text x="1747.5" y="2947.8" font-family="'Liberation Sans', Arial, sans-serif" font-size="46" fill="#5ed4e0" text-anchor="start" textLength="136.0" lengthAdjust="spacingAndGlyphs" stroke="#5ed4e0" stroke-width="0.8">10MPa</text>
</svg></body></html>
